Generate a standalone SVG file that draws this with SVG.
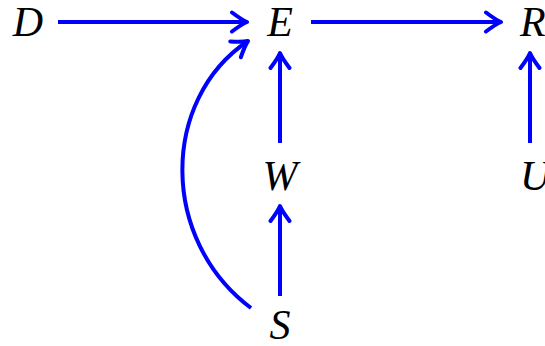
<svg xmlns="http://www.w3.org/2000/svg" width="545" height="346" viewBox="0 0 545 346">
<defs>
<style>
.lbl{font-family:"Liberation Serif","DejaVu Serif",serif;font-style:italic;font-size:42px;fill:#000}
.edge{fill:none;stroke:#0000ff;stroke-width:4}
</style>
<marker id="ah" markerUnits="userSpaceOnUse" viewBox="-20 -12 24 24" markerWidth="24" markerHeight="24" refX="0" refY="0" orient="auto">
<path d="M-15,-9.5 Q-5,-2 0,0 Q-5,2 -15,9.5" fill="none" stroke="#0000ff" stroke-width="4" stroke-linecap="round" stroke-linejoin="round"/>
</marker>
</defs>
<rect width="545" height="346" fill="#fff"/>
<g id="edges">
<path class="edge" d="M58,22 H247" marker-end="url(#ah)"/>
<path class="edge" d="M311,22 H501" marker-end="url(#ah)"/>
<path class="edge" d="M280,143 V53" marker-end="url(#ah)"/>
<path class="edge" d="M280,296 V206" marker-end="url(#ah)"/>
<path class="edge" d="M530,143 V53" marker-end="url(#ah)"/>
<path class="edge" d="M251,308 C160,240 160,100 248,41" marker-end="url(#ah)"/>
</g>
<g id="D"><text class="lbl" x="28" y="36" text-anchor="middle">D</text></g>
<g id="E"><text class="lbl" x="280" y="36" text-anchor="middle">E</text></g>
<g id="R"><text class="lbl" x="520" y="36">R</text></g>
<g id="W"><text class="lbl" x="280" y="190" text-anchor="middle">W</text></g>
<g id="U"><text class="lbl" x="520" y="190">U</text></g>
<g id="S"><text class="lbl" x="280" y="339" text-anchor="middle">S</text></g>
</svg>
